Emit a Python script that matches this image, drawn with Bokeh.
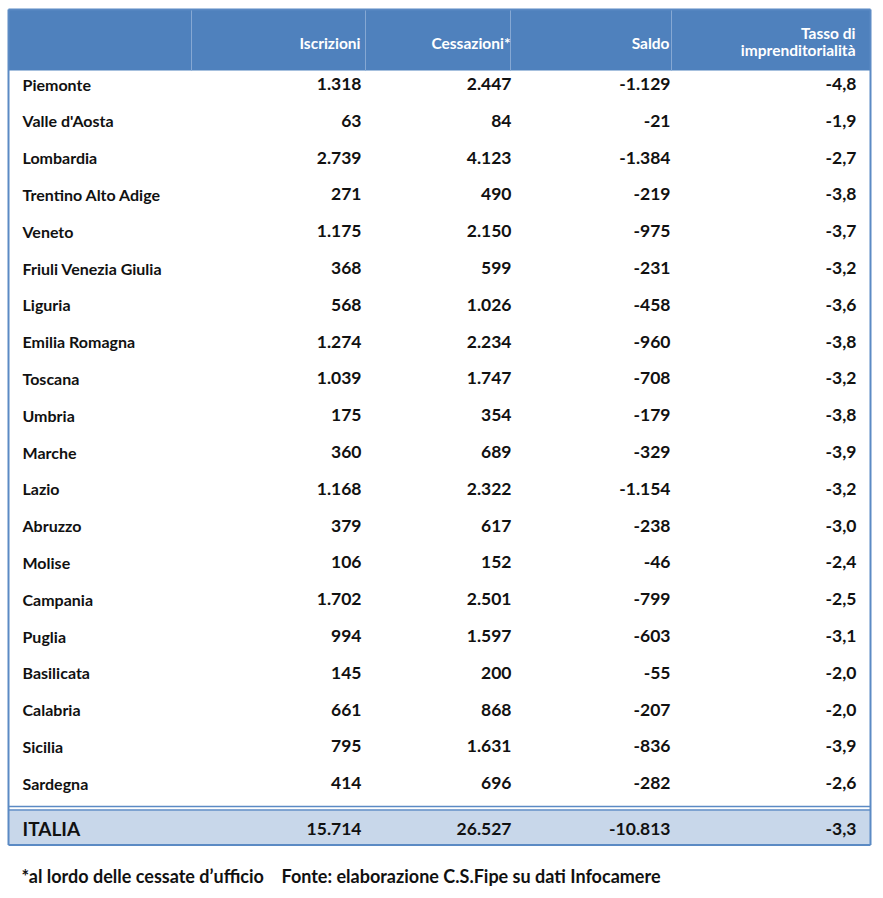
from bokeh.plotting import figure
from bokeh.models import ColumnDataSource, Range1d
from bokeh.core.properties import value
from bokeh.embed import file_html
from bokeh.resources import INLINE

# ---------------- data ----------------
regions = ["Piemonte", "Valle d'Aosta", "Lombardia", "Trentino Alto Adige", "Veneto",
           "Friuli Venezia Giulia", "Liguria", "Emilia Romagna", "Toscana", "Umbria",
           "Marche", "Lazio", "Abruzzo", "Molise", "Campania", "Puglia", "Basilicata",
           "Calabria", "Sicilia", "Sardegna"]
iscrizioni = [1318, 63, 2739, 271, 1175, 368, 568, 1274, 1039, 175,
              360, 1168, 379, 106, 1702, 994, 145, 661, 795, 414]
cessazioni = [2447, 84, 4123, 490, 2150, 599, 1026, 2234, 1747, 354,
              689, 2322, 617, 152, 2501, 1597, 200, 868, 1631, 696]
saldo = [-1129, -21, -1384, -219, -975, -231, -458, -960, -708, -179,
         -329, -1154, -238, -46, -799, -603, -55, -207, -836, -282]
tasso = [-4.8, -1.9, -2.7, -3.8, -3.7, -3.2, -3.6, -3.8, -3.2, -3.8,
         -3.9, -3.2, -3.0, -2.4, -2.5, -3.1, -2.0, -2.0, -3.9, -2.6]
total_label = "ITALIA"
total_iscrizioni = 15714
total_cessazioni = 26527
total_saldo = -10813
total_tasso = -3.3
headers = ["Iscrizioni", "Cessazioni*", "Saldo", "Tasso di\nimprenditorialità"]
footnote = "*al lordo delle cessate d\u2019ufficio"
source_note = "Fonte: elaborazione C.S.Fipe su dati Infocamere"


def fmt_int(n):
    return f"{n:,}".replace(",", ".")


def fmt_dec(v):
    return f"{v:.1f}".replace(".", ",")


# ---------------- layout ----------------
W, H = 880, 895
OFF = 1
FONT = value("Lato")
BLUE = "#4F81BD"
BORDER = "#5B8AC4"
LIGHT = "#C8D7EA"
INK = "#111111"

L, R, T = 9, 871, 10
HEAD_B = 71
ROW_H = 36.8
N = len(regions)
BODY_B = HEAD_B + ROW_H * N  # ~807
TOT_T, TOT_B = BODY_B + 4, 845.5
col_right = [362, 512, 671, 857]
col_seps = [192, 366, 511, 672]

p = figure(width=W, height=H, x_range=Range1d(OFF, OFF + W), y_range=Range1d(OFF + H, OFF),
           output_backend="svg", toolbar_location=None, min_border=0)
p.axis.visible = False
p.grid.visible = False
p.outline_line_color = None
p.background_fill_color = "white"
p.border_fill_color = "white"

# header fill and total-row fill
p.quad(left=[L], right=[R], top=[T], bottom=[HEAD_B], fill_color=BLUE, line_color=None)
p.quad(left=[L], right=[R], top=[TOT_T], bottom=[TOT_B], fill_color=LIGHT, line_color=None)

# header column separators
p.segment(x0=col_seps, x1=col_seps, y0=[T] * 4, y1=[HEAD_B] * 4,
          line_color="#86A8D3", line_width=1)

# outer borders
p.segment(x0=[L, R], x1=[L, R], y0=[T, T], y1=[TOT_B, TOT_B], line_color=BORDER, line_width=2)
p.segment(x0=[L, L, L, L], x1=[R, R, R, R], y0=[T, BODY_B, BODY_B + 3.5, TOT_B],
          y1=[T, BODY_B, BODY_B + 3.5, TOT_B], line_color=BORDER, line_width=[2, 1.5, 1.5, 2])

# header texts
hx, hy, ht = [], [], []
for h, xr in zip(headers, col_right):
    parts = h.split("\n")
    if len(parts) == 1:
        hx.append(xr - 1); hy.append(43); ht.append(parts[0])
    else:
        for k, part in enumerate(parts):
            hx.append(xr - 1); hy.append(33 + 17 * k); ht.append(part)
p.text(x=hx, y=hy, text=ht, text_font=FONT,
       text_font_size="15.5px", text_font_style="bold", text_color="white",
       text_align="right", text_baseline="middle")

# body
ys = [HEAD_B + 13.5 + ROW_H * i for i in range(N)]
src = ColumnDataSource(dict(
    y=ys, region=regions,
    isc=[fmt_int(v) for v in iscrizioni],
    ces=[fmt_int(v) for v in cessazioni],
    sal=[fmt_int(v) for v in saldo],
    tas=[fmt_dec(v) for v in tasso],
))
p.text(x=23, y="y", text="region", source=src, text_font=FONT, text_font_size="16px",
       text_font_style="bold", text_color=INK, text_align="left", text_baseline="middle")
for col, xr in zip(["isc", "ces", "sal", "tas"], col_right):
    p.text(x=xr, y="y", text=col, source=src, text_font=FONT, text_font_size="17.5px",
           text_font_style="bold", text_color=INK, text_align="right", text_baseline="middle")

# total row
ty = (TOT_T + TOT_B) / 2 + 1
p.text(x=[23], y=[ty], text=[total_label], text_font=FONT, text_font_size="19px",
       text_font_style="bold", text_color=INK, text_align="left", text_baseline="middle")
p.text(x=col_right, y=[ty] * 4,
       text=[fmt_int(total_iscrizioni), fmt_int(total_cessazioni), fmt_int(total_saldo), fmt_dec(total_tasso)],
       text_font=FONT, text_font_size="17.5px", text_font_style="bold", text_color=INK,
       text_align="right", text_baseline="middle")

# footer
p.text(x=[22], y=[876], text=[footnote], text_font=FONT, text_font_size="18px",
       text_font_style="bold", text_color=INK, text_align="left", text_baseline="middle")
p.text(x=[282], y=[876], text=[source_note], text_font=FONT, text_font_size="18px",
       text_font_style="bold", text_color=INK, text_align="left", text_baseline="middle")

open("out.html", "w").write(file_html(p, INLINE))
